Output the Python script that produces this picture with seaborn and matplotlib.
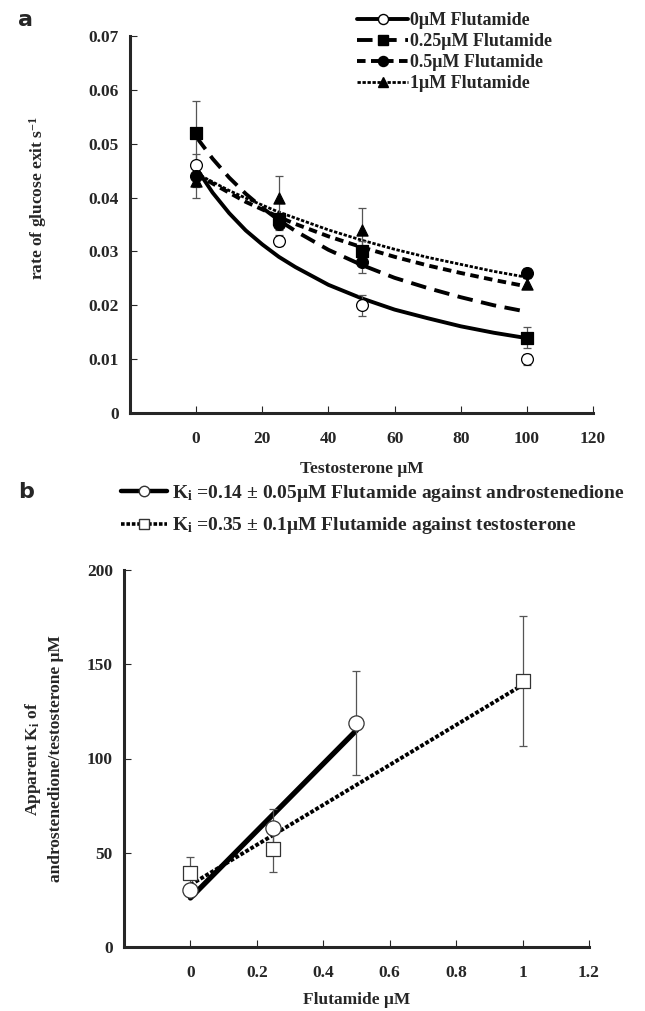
import numpy as np
import pandas as pd
import seaborn as sns
import matplotlib
matplotlib.use("Agg")
from matplotlib import pyplot as plt
from matplotlib.lines import Line2D

# panel a: measured points
testo_x = [0, 25, 50, 100]
glc_0 = [0.046, 0.032, 0.020, 0.010]
glc_0_err = [0.002, 0.001, 0.002, 0.001]
glc_025 = [0.052, 0.036, 0.030, 0.014]
glc_025_err = [0.006, 0.001, 0.002, 0.002]
glc_05 = [0.044, 0.035, 0.028, 0.026]
glc_05_err = [0.002, 0.001, 0.002, 0.001]
glc_1 = [0.043, 0.040, 0.034, 0.024]
glc_1_err = [0.003, 0.004, 0.004, 0.001]

# panel a: fitted curves
fit_x = [0, 5, 10, 15, 20, 25, 30, 40, 50, 60, 70, 80, 90, 100]
fit_0 = [0.0455, 0.0409, 0.0371, 0.0339, 0.0313, 0.0290, 0.0271, 0.0238,
         0.0213, 0.0192, 0.0176, 0.0161, 0.0149, 0.0139]
fit_025 = [0.0513, 0.0472, 0.0437, 0.0407, 0.0381, 0.0358, 0.0338, 0.0303,
           0.0275, 0.0251, 0.0232, 0.0215, 0.0200, 0.0188]
fit_05 = [0.0445, 0.0426, 0.0409, 0.0392, 0.0378, 0.0364, 0.0351, 0.0328,
          0.0308, 0.0290, 0.0274, 0.0260, 0.0247, 0.0235]
fit_1 = [0.0445, 0.0429, 0.0413, 0.0399, 0.0386, 0.0373, 0.0362, 0.0340,
         0.0321, 0.0304, 0.0289, 0.0276, 0.0263, 0.0252]

# panel b
flut_andro_x = [0, 0.25, 0.5]
ki_andro = [30, 63, 119]
ki_andro_err = [2, 10, 27.5]
flut_testo_x = [0, 0.25, 1.0]
ki_testo = [39, 52, 141]
ki_testo_err = [9, 12, 34.5]
line_andro_x = [0, 0.5]
line_andro_y = [26, 115]
line_testo_x = [0, 1.0]
line_testo_y = [33, 139]

labels_a = ["0\u03bcM Flutamide", "0.25\u03bcM Flutamide",
            "0.5\u03bcM Flutamide", "1\u03bcM Flutamide"]
labels_b = [r"K$_{\rm i}$ =0.14 $\pm$ 0.05$\mu$M Flutamide against androstenedione",
            r"K$_{\rm i}$ =0.35 $\pm$ 0.1$\mu$M Flutamide against testosterone"]

sns.set_style("ticks")
plt.rcParams["font.family"] = ["Liberation Serif", "DejaVu Serif"]
plt.rcParams["font.weight"] = "bold"
plt.rcParams["mathtext.fontset"] = "custom"
plt.rcParams["mathtext.rm"] = "Liberation Serif:bold"
plt.rcParams["mathtext.it"] = "Liberation Serif:bold"
plt.rcParams["mathtext.default"] = "rm"

FS = 12.5
W, H = 645, 1011
fig = plt.figure(figsize=(W / 100, H / 100), dpi=100)
ax_a = fig.add_axes([130 / W, 1 - 413 / H, 463 / W, 377 / H])
ax_b = fig.add_axes([124 / W, 1 - 947 / H, 465 / W, 377 / H])

# ---- panel a ----
styles = [
    (fit_0, "-", 2.8, glc_0, glc_0_err, "o", "white", 8.5),
    (fit_025, (0, (4, 2.2)), 2.8, glc_025, glc_025_err, "s", "black", 8),
    (fit_05, (0, (2.2, 1.4)), 2.8, glc_05, glc_05_err, "o", "black", 8.5),
    (fit_1, (0, (1.2, 0.6)), 2.0, glc_1, glc_1_err, "^", "black", 8),
]
handles = []
for fit, ls, lw, yv, ye, mk, fc, ms in styles:
    sns.lineplot(x=fit_x, y=fit, ax=ax_a, color="black", linewidth=lw,
                 linestyle=ls, legend=False)
    ax_a.errorbar(testo_x, yv, yerr=ye, fmt="none", ecolor="#555555",
                  elinewidth=0.9, capsize=3, capthick=0.9, zorder=3)
    sns.scatterplot(x=testo_x, y=yv, ax=ax_a, marker=mk, s=ms ** 2,
                    color=fc, edgecolor="black", linewidth=0.9, zorder=4,
                    legend=False)
    handles.append(Line2D([], [], color="black", lw=lw, linestyle=ls,
                          marker=mk, markersize=ms * 0.85,
                          markerfacecolor=fc, markeredgecolor="black"))

ax_a.set_xlim(-20, 120)
ax_a.set_ylim(0, 0.07)
ax_a.set_xticks([0, 20, 40, 60, 80, 100, 120])
ax_a.set_yticks([0, 0.01, 0.02, 0.03, 0.04, 0.05, 0.06, 0.07])
ax_a.set_yticklabels(["0", "0.01", "0.02", "0.03", "0.04", "0.05", "0.06", "0.07"])
ax_a.set_xlabel("Testosterone \u03bcM", fontsize=FS, fontweight="bold", labelpad=10)
ax_a.set_ylabel(r"rate of glucose exit s$^{-1}$", fontsize=FS, fontweight="bold")
ax_a.yaxis.set_label_coords(-0.175, 0.57)

fig.legend(handles, labels_a, loc="upper left",
           bbox_to_anchor=(350 / W, 1 - 5 / H), frameon=False, fontsize=13,
           handlelength=2.8, handletextpad=0.15, labelspacing=0.22,
           borderaxespad=0)

# ---- panel b ----
sns.lineplot(x=line_andro_x, y=line_andro_y, ax=ax_b, color="black",
             linewidth=3.8, legend=False)
sns.lineplot(x=line_testo_x, y=line_testo_y, ax=ax_b, color="black",
             linewidth=2.8, linestyle=(0, (1.0, 0.5)), legend=False)
ax_b.errorbar(flut_andro_x, ki_andro, yerr=ki_andro_err, fmt="none",
              ecolor="#555555", elinewidth=0.9, capsize=3, capthick=0.9)
ax_b.errorbar(flut_testo_x, ki_testo, yerr=ki_testo_err, fmt="none",
              ecolor="#555555", elinewidth=0.9, capsize=3, capthick=0.9)
sns.scatterplot(x=flut_andro_x, y=ki_andro, ax=ax_b, marker="o", s=120,
                color="white", edgecolor="#333333", linewidth=0.9, zorder=4,
                legend=False)
sns.scatterplot(x=flut_testo_x, y=ki_testo, ax=ax_b, marker="s", s=100,
                color="white", edgecolor="#333333", linewidth=0.9, zorder=4,
                legend=False)

ax_b.set_xlim(-0.2, 1.2)
ax_b.set_ylim(0, 200)
ax_b.set_xticks([0, 0.2, 0.4, 0.6, 0.8, 1.0, 1.2])
ax_b.set_xticklabels(["0", "0.2", "0.4", "0.6", "0.8", "1", "1.2"])
ax_b.set_yticks([0, 50, 100, 150, 200])
ax_b.set_xlabel("Flutamide \u03bcM", fontsize=FS, fontweight="bold", labelpad=8)
ax_b.set_ylabel("Apparent K$_{\\rm i}$ of\nandrostenedione/testosterone \u03bcM",
                fontsize=FS, fontweight="bold", linespacing=1.35)
ax_b.yaxis.set_label_coords(-0.13, 0.5)

handles_b = [
    Line2D([], [], color="black", lw=3.2, marker="o", markersize=7.5,
           markerfacecolor="white", markeredgecolor="#333333"),
    Line2D([], [], color="black", lw=2.6, linestyle=(0, (1.0, 0.5)),
           marker="s", markersize=7.5, markerfacecolor="white",
           markeredgecolor="#333333"),
]
fig.legend(handles_b, labels_b, loc="upper left",
           bbox_to_anchor=(113 / W, 1 - 475 / H), frameon=False, fontsize=14,
           handlelength=2.4, handletextpad=0.25, labelspacing=0.6,
           borderaxespad=0)

for ax in (ax_a, ax_b):
    sns.despine(ax=ax)
    ax.spines["left"].set_linewidth(2.2)
    ax.spines["bottom"].set_linewidth(2.2)
    ax.tick_params(direction="in", length=5, width=0.8, labelsize=FS, pad=13,
                   axis="x")
    ax.tick_params(direction="in", length=5, width=0.8, labelsize=FS, pad=8,
                   axis="y")
    for t in ax.get_xticklabels() + ax.get_yticklabels():
        t.set_fontweight("bold")

fig.text(18 / W, 1 - 20 / H, "a", fontsize=16, fontweight="bold",
         family="DejaVu Sans", va="center")
fig.text(18 / W, 1 - 492 / H, "b", fontsize=16, fontweight="bold",
         family="DejaVu Sans", va="center")

fig.savefig("out.png", dpi=100)
